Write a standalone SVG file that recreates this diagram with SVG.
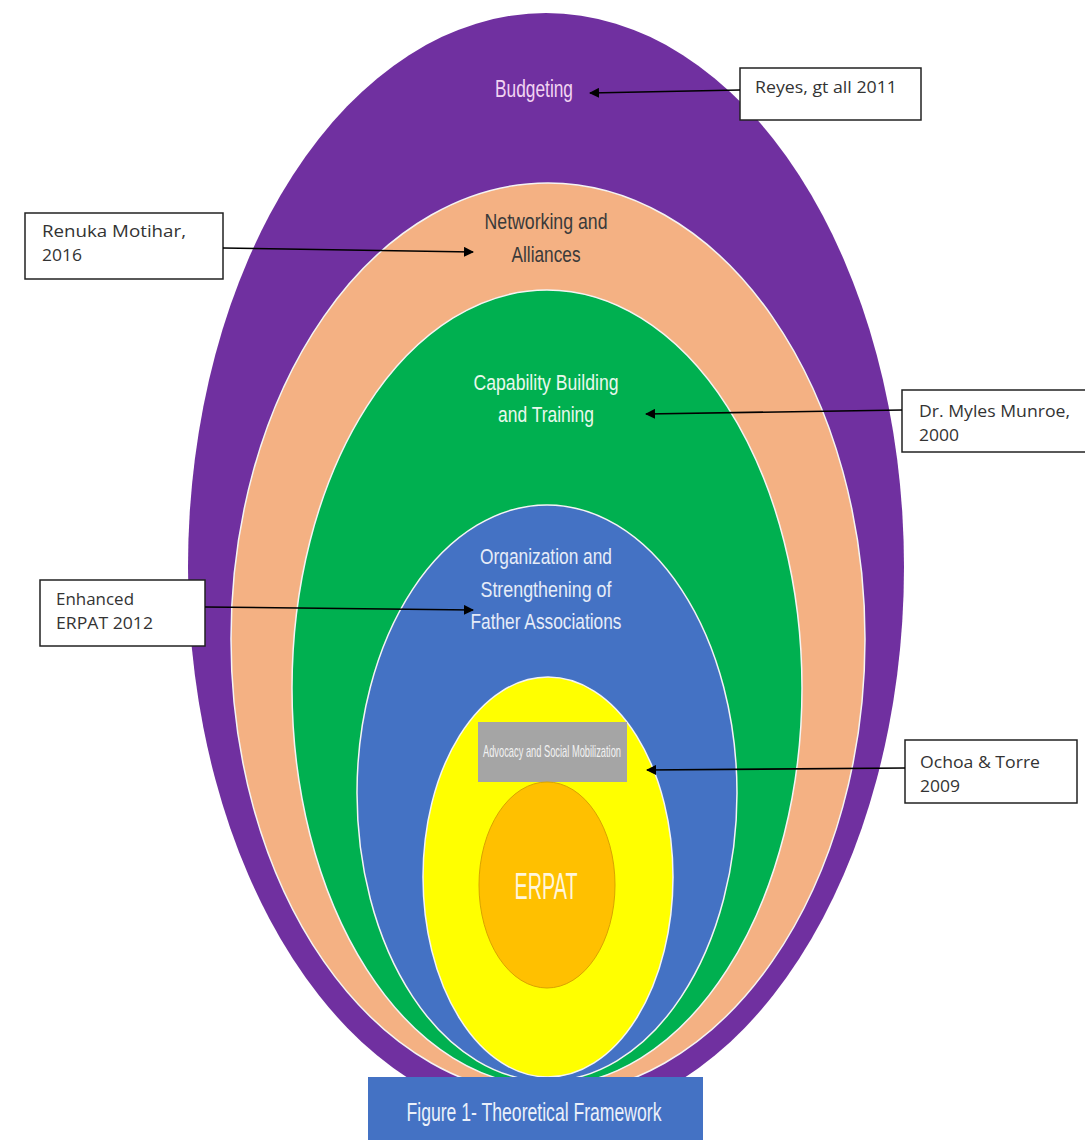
<svg xmlns="http://www.w3.org/2000/svg" width="1085" height="1140" viewBox="0 0 1085 1140">
<defs>
<marker id="ah" markerWidth="10" markerHeight="10" refX="9" refY="5" orient="auto" markerUnits="userSpaceOnUse">
<path d="M0,0 L10,5 L0,10 Z" fill="#000"/>
</marker>
<style>
.lbl{font-family:"Liberation Sans Narrow","Liberation Sans",Arial,sans-serif;text-anchor:middle}
.cite{font-family:"Open Sans","Liberation Sans",Arial,sans-serif;font-size:15.5px;fill:#333}
.box{fill:#fff;stroke:#222;stroke-width:1.5}
.conn{stroke:#000;stroke-width:1.6;fill:none;marker-end:url(#ah)}
.ring{stroke:#f4f4f4;stroke-width:1.5}
</style>
</defs>
<rect width="1085" height="1140" fill="#fff"/>
<g id="budgeting">
<ellipse cx="546" cy="567" rx="358" ry="554" fill="#7030A0"/>
<text class="lbl" x="534" y="97" font-size="23" fill="#F2D4F2" textLength="78" lengthAdjust="spacingAndGlyphs">Budgeting</text>
</g>
<g id="networking">
<ellipse class="ring" cx="548" cy="639" rx="317" ry="456" fill="#F4B183"/>
<text class="lbl" x="546" y="229" font-size="22" fill="#3a3a3a" textLength="123" lengthAdjust="spacingAndGlyphs">Networking and</text>
<text class="lbl" x="546" y="262" font-size="22" fill="#3a3a3a" textLength="69" lengthAdjust="spacingAndGlyphs">Alliances</text>
</g>
<g id="capability">
<ellipse class="ring" cx="547" cy="688" rx="255" ry="398" fill="#00B050"/>
<text class="lbl" x="546" y="390" font-size="22" fill="#E8F8EC" textLength="145" lengthAdjust="spacingAndGlyphs">Capability Building</text>
<text class="lbl" x="546" y="422" font-size="22" fill="#E8F8EC" textLength="96" lengthAdjust="spacingAndGlyphs">and Training</text>
</g>
<g id="organization">
<ellipse class="ring" cx="547" cy="793" rx="190" ry="288" fill="#4472C4"/>
<text class="lbl" x="546" y="564" font-size="22" fill="#E6ECF8" textLength="132" lengthAdjust="spacingAndGlyphs">Organization and</text>
<text class="lbl" x="546" y="597" font-size="22" fill="#E6ECF8" textLength="131" lengthAdjust="spacingAndGlyphs">Strengthening of</text>
<text class="lbl" x="546" y="629" font-size="22" fill="#E6ECF8" textLength="151" lengthAdjust="spacingAndGlyphs">Father Associations</text>
</g>
<g id="advocacy">
<ellipse class="ring" cx="548" cy="877" rx="125" ry="200" fill="#FFFF00"/>
<rect x="478" y="722" width="149" height="60" fill="#A5A5A5"/>
<text class="lbl" x="552" y="757" font-size="17" fill="#F2F2F2" textLength="138" lengthAdjust="spacingAndGlyphs">Advocacy and  Social  Mobilization</text>
</g>
<g id="erpat">
<ellipse cx="547" cy="885" rx="68" ry="103" fill="#FFC000" stroke="#D9A300" stroke-width="1"/>
<text class="lbl" x="546" y="899" font-size="36" fill="#FFF6DC" textLength="63" lengthAdjust="spacingAndGlyphs">ERPAT</text>
</g>
<g id="caption">
<rect x="368" y="1077" width="335" height="63" fill="#4472C4"/>
<text class="lbl" x="534" y="1121" font-size="25" fill="#EAF0FA" textLength="255" lengthAdjust="spacingAndGlyphs">Figure 1- Theoretical Framework</text>
</g>
<g id="cite-reyes">
<rect class="box" x="740" y="68" width="181" height="52"/>
<text class="cite" x="755" y="93" textLength="142" lengthAdjust="spacingAndGlyphs">Reyes, gt all 2011</text>
</g>
<g id="cite-renuka">
<rect class="box" x="25" y="213" width="198" height="66"/>
<text class="cite" x="42" y="237" textLength="144" lengthAdjust="spacingAndGlyphs">Renuka Motihar,</text>
<text class="cite" x="42" y="261" textLength="40" lengthAdjust="spacingAndGlyphs">2016</text>
</g>
<g id="cite-myles">
<rect class="box" x="902" y="390" width="185" height="62"/>
<text class="cite" x="919" y="417" textLength="151" lengthAdjust="spacingAndGlyphs">Dr. Myles Munroe,</text>
<text class="cite" x="919" y="441" textLength="40" lengthAdjust="spacingAndGlyphs">2000</text>
</g>
<g id="cite-enhanced">
<rect class="box" x="40" y="580" width="165" height="66"/>
<text class="cite" x="56" y="605" textLength="78" lengthAdjust="spacingAndGlyphs">Enhanced</text>
<text class="cite" x="56" y="629" textLength="97" lengthAdjust="spacingAndGlyphs">ERPAT 2012</text>
</g>
<g id="cite-ochoa">
<rect class="box" x="905" y="740" width="172" height="63"/>
<text class="cite" x="920" y="768" textLength="120" lengthAdjust="spacingAndGlyphs">Ochoa &amp; Torre</text>
<text class="cite" x="920" y="792" textLength="40" lengthAdjust="spacingAndGlyphs">2009</text>
</g>
<g id="connectors">
<line class="conn" x1="740" y1="90" x2="590" y2="93"/>
<line class="conn" x1="223" y1="248" x2="473" y2="252"/>
<line class="conn" x1="902" y1="410" x2="646" y2="414"/>
<line class="conn" x1="205" y1="607" x2="473" y2="610"/>
<line class="conn" x1="905" y1="768" x2="647" y2="770"/>
</g>
</svg>
